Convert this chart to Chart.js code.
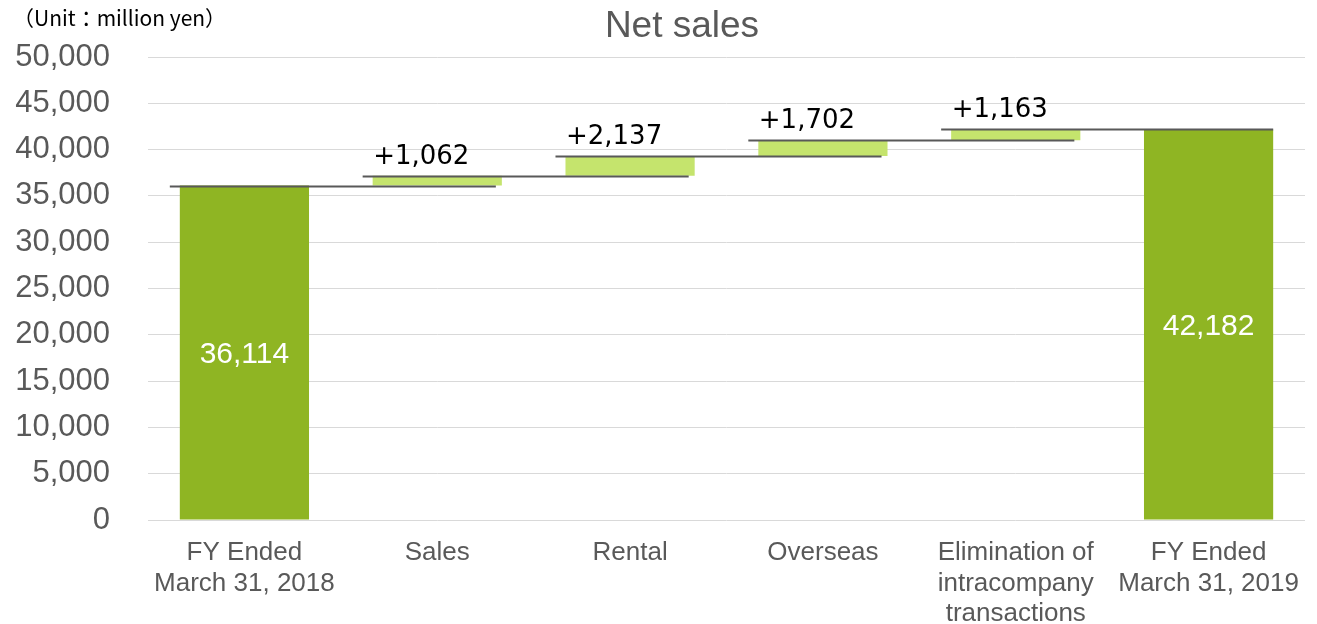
<!DOCTYPE html>
<html>
<head>
<meta charset="utf-8">
<script src="https://cdn.jsdelivr.net/npm/chart.js@4/dist/chart.umd.min.js"></script>
<style>
  html, body { margin: 0; padding: 0; background: #fff; }
  #wrap { width: 1317px; height: 624px; }
</style>
</head>
<body>
<div id="wrap"><canvas id="netSales" width="1317" height="624"></canvas></div>
<script>
// --- datos ---
const categories = [
  ['FY Ended', 'March 31, 2018'],
  'Sales',
  'Rental',
  'Overseas',
  ['Elimination of', 'intracompany', 'transactions'],
  ['FY Ended', 'March 31, 2019']
];
const startTotal = 36114;
const changes = [1062, 2137, 1702, 1163];
const endTotal = 42182;
const yMin = 0;
const yMax = 50000;
const yStep = 5000;

const TOTAL_COLOR = '#8fb523';
const CHANGE_COLOR = '#c5e46d';
const GREY = '#595959';

// rangos flotantes del waterfall
const ranges = [[0, startTotal]];
let level = startTotal;
changes.forEach(c => {
  ranges.push([level, level + c]);
  level += c;
});
ranges.push([0, endTotal]);

const barColors = ranges.map((r, i) => (i === 0 || i === ranges.length - 1) ? TOTAL_COLOR : CHANGE_COLOR);
const fmt = v => v.toLocaleString('en-US');

// lineas conectoras + etiquetas + titulo
const waterfallExtras = {
  id: 'waterfallExtras',
  afterDatasetsDraw(chart) {
    const ctx = chart.ctx;
    const y = chart.scales.y;
    const bars = chart.getDatasetMeta(0).data;

    ctx.save();
    ctx.strokeStyle = GREY;
    ctx.lineWidth = 2;
    for (let i = 0; i < bars.length - 1; i++) {
      const cur = bars[i], next = bars[i + 1];
      const py = Math.round(y.getPixelForValue(ranges[i][1])) + 0.5;
      const x0 = cur.x - cur.width / 2 - 10;
      const x1 = next.x + next.width / 2 - (i === bars.length - 2 ? 0 : 6);
      ctx.beginPath();
      ctx.moveTo(x0, py);
      ctx.lineTo(x1, py);
      ctx.stroke();
    }

    ctx.textAlign = 'center';
    ctx.textBaseline = 'middle';
    bars.forEach((bar, i) => {
      if (i === 0 || i === bars.length - 1) {
        ctx.fillStyle = '#ffffff';
        ctx.font = '30px "Liberation Sans", Arial, sans-serif';
        ctx.fillText(fmt(ranges[i][1]), bar.x, (bar.y + bar.base) / 2 + 2);
      } else {
        ctx.fillStyle = '#000000';
        ctx.font = '26px "DejaVu Sans", Verdana, sans-serif';
        ctx.fillText('+' + fmt(changes[i - 1]), bar.x - 16, bar.y - 19);
      }
    });
    ctx.restore();
  },
  afterDraw(chart) {
    const ctx = chart.ctx;
    ctx.save();
    ctx.textBaseline = 'middle';
    // titulo (desplazado a la izquierda como en el original)
    ctx.fillStyle = GREY;
    ctx.font = '37px "Liberation Sans", Arial, sans-serif';
    ctx.textAlign = 'center';
    ctx.fillText('Net sales', 682, 27);
    // unidad
    ctx.fillStyle = '#000000';
    ctx.font = '21px "Noto Sans CJK JP", sans-serif';
    ctx.textAlign = 'left';
    ctx.fillText('（Unit：million yen）', 13, 18);
    ctx.restore();
  }
};

new Chart(document.getElementById('netSales'), {
  type: 'bar',
  data: {
    labels: categories,
    datasets: [{
      data: ranges,
      backgroundColor: barColors,
      borderWidth: 0,
      barPercentage: 0.67,
      categoryPercentage: 1
    }]
  },
  options: {
    responsive: false,
    devicePixelRatio: 1,
    animation: false,
    layout: { padding: { left: 0, right: 12, top: 57, bottom: 0 } },
    plugins: {
      legend: { display: false },
      tooltip: { enabled: false },
      title: { display: false }
    },
    scales: {
      x: {
        grid: { display: false },
        border: { display: false },
        ticks: {
          color: GREY,
          font: { family: '"Liberation Sans", Arial, sans-serif', size: 26, lineHeight: 1.17 },
          padding: 10,
          maxRotation: 0,
          autoSkip: false
        },
        afterFit(scale) { scale.height = 104; }
      },
      y: {
        min: yMin,
        max: yMax,
        grid: { color: '#d9d9d9', lineWidth: 1, drawTicks: false },
        border: { display: false },
        ticks: {
          stepSize: yStep,
          color: GREY,
          padding: 38,
          font: { family: '"Liberation Sans", Arial, sans-serif', size: 31 },
          callback: v => fmt(v)
        },
        afterFit(scale) { scale.width = 148; }
      }
    }
  },
  plugins: [waterfallExtras]
});
</script>
</body>
</html>
